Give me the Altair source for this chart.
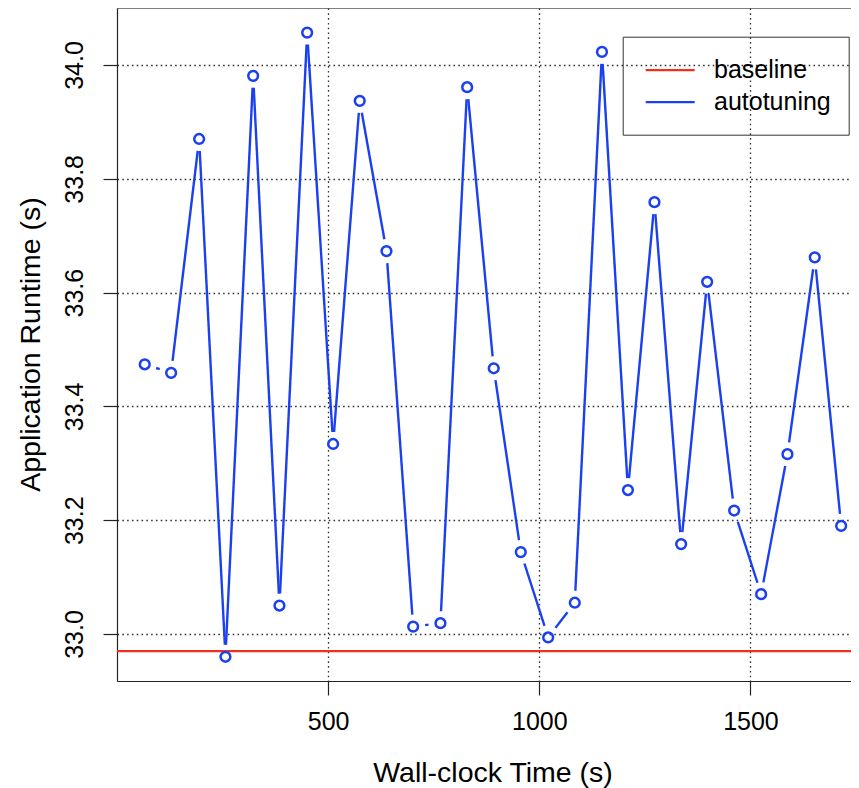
import math
import altair as alt
import pandas as pd

# ---------------- data ----------------
wall_time = [65.7, 128.2, 194.5, 256.8, 322.4, 384.7, 450.3, 511.8, 574.8,
             638.1, 701.3, 765.9, 829.2, 892.1, 956.1, 1021.0, 1084.0,
             1148.4, 1209.9, 1272.7, 1335.9, 1397.5, 1461.4, 1525.3,
             1587.6, 1652.3, 1714.8]
runtime = [33.474, 33.459, 33.870, 32.960, 33.981, 33.050, 34.057, 33.334,
           33.937, 33.673, 33.013, 33.019, 33.961, 33.467, 33.144, 32.994,
           33.055, 34.023, 33.253, 33.759, 33.158, 33.619, 33.217, 33.070,
           33.316, 33.662, 33.190]
baseline_runtime = 32.970
series_names = ["baseline", "autotuning"]
x_ticks = [500, 1000, 1500]
y_ticks = [33.0, 33.2, 33.4, 33.6, 33.8, 34.0]

# ---------------- styling ----------------
FONT = "Liberation Sans"
BLUE = "#1a40f0"
RED = "#f0301e"
INK = "#222222"
W, H = 734, 673
X_DOMAIN = [0, 1738.1]
Y_DOMAIN = [32.9174, 34.1002]
GAP = 12  # px gap between line ends and points (R type="b")

pts = pd.DataFrame({"t": wall_time, "r": runtime})

# line segments of type="b": shortened at each end by GAP pixels
kx = W / (X_DOMAIN[1] - X_DOMAIN[0])
ky = H / (Y_DOMAIN[1] - Y_DOMAIN[0])
rows = []
for i in range(len(wall_time) - 1):
    x1, y1, x2, y2 = wall_time[i], runtime[i], wall_time[i + 1], runtime[i + 1]
    L = math.hypot((x2 - x1) * kx, (y2 - y1) * ky)
    if L > 2 * GAP:
        f = GAP / L
        rows.append({
            "t": x1 + f * (x2 - x1), "r": y1 + f * (y2 - y1),
            "t2": x2 - f * (x2 - x1), "r2": y2 - f * (y2 - y1),
            "series": series_names[1],
        })
segs = pd.DataFrame(rows)
base = pd.DataFrame({"r": [baseline_runtime], "series": [series_names[0]]})

xscale = alt.Scale(domain=X_DOMAIN, nice=False, zero=False)
yscale = alt.Scale(domain=Y_DOMAIN, nice=False, zero=False)

xaxis = alt.Axis(
    values=x_ticks, format="d", title="Wall-clock Time (s)",
    grid=True, gridDash=[1.6, 3.2], gridColor="#333333", gridWidth=1.3,
    tickSize=14, tickColor=INK, tickWidth=1.2,
    domainColor=INK, domainWidth=1.2,
    labelFont=FONT, labelFontSize=25, labelColor="black",
    labelPadding=34, labelBaseline="alphabetic",
    titleFont=FONT, titleFontSize=28.5, titleFontWeight="normal",
    titleColor="black", titleX=375.5, titleY=100.7,
    titleBaseline="alphabetic", titleAlign="center",
)
yaxis = alt.Axis(
    values=y_ticks, format=".1f", title="Application Runtime (s)",
    grid=True, gridDash=[1.6, 3.2], gridColor="#333333", gridWidth=1.3,
    tickSize=14, tickColor=INK, tickWidth=1.2,
    domainColor=INK, domainWidth=1.2,
    labelFont=FONT, labelFontSize=25, labelColor="black",
    labelAngle=270, labelAlign="center", labelBaseline="alphabetic",
    labelPadding=21,
    titleFont=FONT, titleFontSize=28.5, titleFontWeight="normal",
    titleColor="black", titleAngle=270, titleX=-78, titleY=336,
    titleBaseline="alphabetic", titleAlign="center",
)

color = alt.Color(
    "series:N",
    scale=alt.Scale(domain=series_names, range=[RED, BLUE]),
    legend=alt.Legend(
        orient="none", legendX=505.7, legendY=28.7, title=None,
        symbolType="M-1.612,0H1.612M0,0.7", symbolSize=924,
        symbolStrokeWidth=2.2, symbolOffset=14,
        labelFont=FONT, labelFontSize=25, labelColor="black",
        labelOffset=27.3, padding=17, rowPadding=0,
        strokeColor="#333333",
    ),
)

baseline_layer = alt.Chart(base).mark_rule(strokeWidth=2.3).encode(
    y=alt.Y("r:Q", scale=yscale, axis=yaxis),
    color=color,
)
seg_layer = alt.Chart(segs).mark_rule(strokeWidth=2.4).encode(
    x=alt.X("t:Q", scale=xscale, axis=xaxis),
    y=alt.Y("r:Q", scale=yscale, axis=yaxis),
    x2="t2:Q", y2="r2:Q",
    color=color,
)
point_layer = alt.Chart(pts).mark_point(
    shape="circle", filled=False, size=95, strokeWidth=2.5, color=BLUE, opacity=1
).encode(
    x=alt.X("t:Q", scale=xscale, axis=xaxis),
    y=alt.Y("r:Q", scale=yscale, axis=yaxis),
)
top_border = alt.Chart(base).mark_rule(color=INK, strokeWidth=1.2).encode(
    y=alt.value(0)
)

chart = alt.layer(baseline_layer, seg_layer, point_layer, top_border).properties(
    width=W, height=H,
    autosize=alt.AutoSizeParams(type="none"),
    padding={"left": 109, "top": 0, "right": 0, "bottom": 107},
).configure_view(stroke=None).configure(font=FONT)

chart.save("out.html", embed_options={"renderer": "svg", "actions": False})
